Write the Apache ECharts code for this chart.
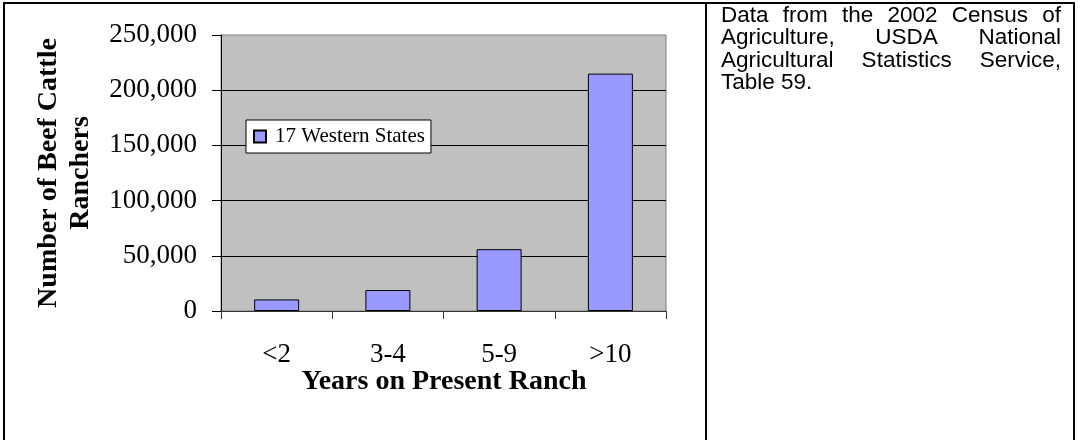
<!DOCTYPE html>
<html><head><meta charset="utf-8">
<script src="https://cdn.jsdelivr.net/npm/echarts@6/dist/echarts.min.js"></script>
<style>html,body{margin:0;padding:0;background:#fff}#c{width:1080px;height:440px}</style>
</head><body><div id="c"></div>
<script>
const categories = ['<2', '3-4', '5-9', '>10'];
const ranchers = [10500, 19000, 56000, 215000];
const seriesName = '17 Western States';
const yTitle = ['Number of Beef Cattle', 'Ranchers'];
const xTitle = 'Years on Present Ranch';
const noteLines = ['Data from the 2002 Census of', 'Agriculture, USDA National', 'Agricultural Statistics Service,', 'Table 59.'];

const SERIF = '"Liberation Serif", "Times New Roman", serif';
const SANS = '"Liberation Sans", Arial, sans-serif';
const NOTE_SIZE = 22.5;

const measure = document.createElement('canvas').getContext('2d');
measure.font = NOTE_SIZE + 'px "Liberation Sans"';
function noteElements() {
  const els = [];
  const x0 = 721, x1 = 1061, y0 = 15.5, lh = 22.5;
  noteLines.forEach((line, li) => {
    const y = y0 + li * lh;
    const justify = li < noteLines.length - 1;
    if (!justify) {
      els.push({type: 'text', x: x0, y: y, style: {text: line, fill: '#000', fontSize: NOTE_SIZE, fontFamily: SANS, align: 'left', verticalAlign: 'middle'}});
      return;
    }
    const words = line.split(' ');
    const widths = words.map(w => measure.measureText(w).width);
    const total = widths.reduce((a, b) => a + b, 0);
    const gap = (x1 - x0 - total) / (words.length - 1);
    let x = x0;
    words.forEach((w, i) => {
      els.push({type: 'text', x: x, y: y, style: {text: w, fill: '#000', fontSize: NOTE_SIZE, fontFamily: SANS, align: 'left', verticalAlign: 'middle'}});
      x += widths[i] + gap;
    });
  });
  return els;
}

const chart = echarts.init(document.getElementById('c'), null, {renderer: 'canvas'});
chart.setOption({
  backgroundColor: '#fff',
  animation: false,
  grid: {left: 221, top: 35, width: 445, height: 276, show: true, backgroundColor: '#C0C0C0', borderColor: '#808080', borderWidth: 1, containLabel: false},
  legend: {
    left: 246, top: 120, orient: 'horizontal',
    padding: [6, 6, 6, 7],
    backgroundColor: '#fff', borderColor: '#000', borderWidth: 1, borderRadius: 0,
    itemWidth: 12, itemHeight: 12, icon: 'rect',
    textStyle: {fontFamily: SERIF, fontSize: 21, color: '#000', padding: [0, 0, 0, 4]},
    data: [seriesName]
  },
  xAxis: {
    type: 'category', data: categories, boundaryGap: true,
    axisLine: {show: true, lineStyle: {color: '#333', width: 1}},
    axisTick: {show: true, alignWithLabel: false, length: 8, lineStyle: {color: '#333'}},
    axisLabel: {fontFamily: SERIF, fontSize: 27, color: '#000', margin: 30},
    splitLine: {show: false}
  },
  yAxis: {
    type: 'value', min: 0, max: 250000, interval: 50000,
    axisLine: {show: true, lineStyle: {color: '#000', width: 1}},
    axisTick: {show: true, length: 9, lineStyle: {color: '#000'}},
    axisLabel: {fontFamily: SERIF, fontSize: 27, color: '#000', margin: 24,
      formatter: v => v.toLocaleString('en-US')},
    splitLine: {show: true, showMaxLine: false, showMinLine: false, lineStyle: {color: '#000', width: 1}}
  },
  series: [{
    name: seriesName, type: 'bar', data: ranchers, barWidth: 45,
    itemStyle: {color: '#9999FF', borderColor: '#000', borderWidth: 1}
  }],
  graphic: [
    {type: 'line', shape: {x1: 3, y1: 3, x2: 1075, y2: 3}, style: {stroke: '#000', lineWidth: 2}},
    {type: 'line', shape: {x1: 4, y1: 2, x2: 4, y2: 440}, style: {stroke: '#000', lineWidth: 2}},
    {type: 'line', shape: {x1: 706, y1: 2, x2: 706, y2: 440}, style: {stroke: '#000', lineWidth: 2}},
    {type: 'line', shape: {x1: 1074, y1: 2, x2: 1074, y2: 440}, style: {stroke: '#000', lineWidth: 2}},
    {type: 'text', x: 65, y: 173, rotation: Math.PI / 2,
      style: {text: yTitle.join('\n'), fill: '#000', fontSize: 28, fontWeight: 'bold', fontFamily: SERIF, align: 'center', verticalAlign: 'middle', lineHeight: 32}},
    {type: 'text', x: 444, y: 382,
      style: {text: xTitle, fill: '#000', fontSize: 28, fontWeight: 'bold', fontFamily: SERIF, align: 'center', verticalAlign: 'middle'}}
  ].concat(noteElements())
});
</script></body></html>
